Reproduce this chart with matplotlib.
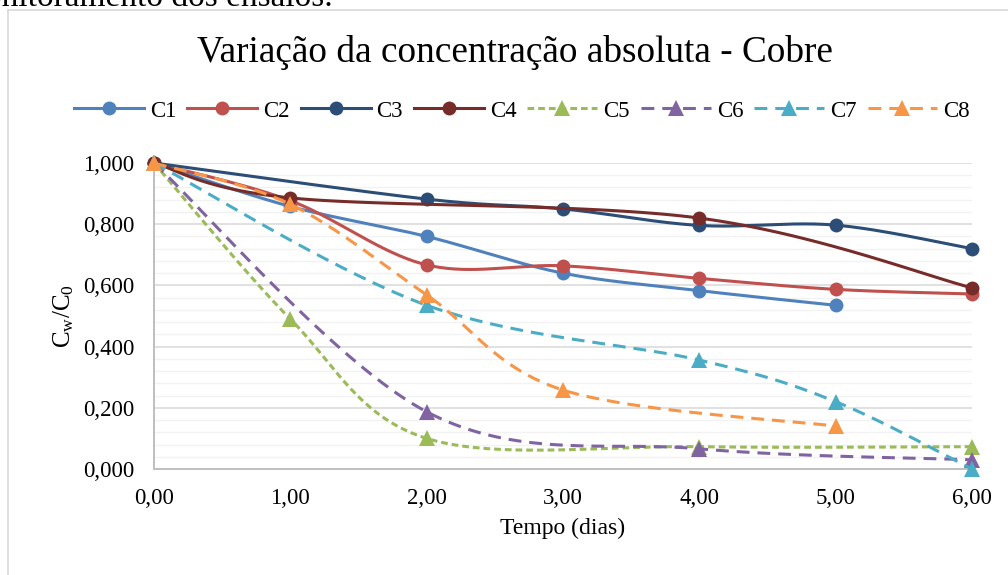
import matplotlib
matplotlib.use('Agg')
import matplotlib.pyplot as plt
from matplotlib.lines import Line2D
from matplotlib.ticker import MultipleLocator, FuncFormatter
import numpy as np

plt.rcParams['font.family'] = ['Liberation Serif', 'DejaVu Serif']
plt.rcParams['mathtext.fontset'] = 'custom'
plt.rcParams['mathtext.rm'] = 'Liberation Serif'
plt.rcParams['mathtext.it'] = 'Liberation Serif:italic'

# dados (Cw/C0 por dia)
x_c1 = [0, 1, 2, 3, 4, 5]
y_c1 = [1.000, 0.858, 0.760, 0.640, 0.583, 0.535]
x_c2 = [0, 1, 2, 3, 4, 5, 6]
y_c2 = [1.000, 0.877, 0.667, 0.664, 0.623, 0.587, 0.572]
x_c3 = [0, 2, 3, 4, 5, 6]
y_c3 = [1.000, 0.882, 0.850, 0.796, 0.797, 0.720]
x_c4 = [0, 1, 4, 6]
y_c4 = [1.000, 0.886, 0.820, 0.592]
x_c5 = [0, 1, 2, 4, 6]
y_c5 = [1.000, 0.490, 0.100, 0.073, 0.073]
x_c6 = [0, 2, 4, 6]
y_c6 = [1.000, 0.187, 0.066, 0.030]
x_c7 = [0, 2, 4, 5, 6]
y_c7 = [1.000, 0.535, 0.356, 0.220, 0.000]
x_c8 = [0, 1, 2, 3, 5]
y_c8 = [1.000, 0.865, 0.569, 0.258, 0.140]

nomes = ['C1', 'C2', 'C3', 'C4', 'C5', 'C6', 'C7', 'C8']
cores = ['#4F81BD', '#C0504D', '#2C4D75', '#772C2A',
         '#9BBB59', '#8064A2', '#4BACC6', '#F79646']
series = [(x_c1, y_c1), (x_c2, y_c2), (x_c3, y_c3), (x_c4, y_c4),
          (x_c5, y_c5), (x_c6, y_c6), (x_c7, y_c7), (x_c8, y_c8)]


# suavizacao estilo excel (bezier / catmull-rom)
def suavizar(xs, ys, n=40):
    pts = np.column_stack([xs, ys]).astype(float)
    out = []
    t = np.linspace(0, 1, n)[:, None]
    for i in range(len(pts) - 1):
        p0 = pts[max(i - 1, 0)]
        p1 = pts[i]
        p2 = pts[i + 1]
        p3 = pts[min(i + 2, len(pts) - 1)]
        c1 = p1 + (p2 - p0) / 6
        c2 = p2 - (p3 - p1) / 6
        seg = (1 - t)**3 * p1 + 3 * (1 - t)**2 * t * c1 + 3 * (1 - t) * t**2 * c2 + t**3 * p2
        out.append(seg if i == 0 else seg[1:])
    return np.vstack(out)


fig = plt.figure(figsize=(10.08, 5.75), dpi=100)
ax = fig.add_axes([154/1008, 1-469/575, (972-154)/1008, (469-163)/575])

lw = 2.2
handles = []
for i, (xs, ys) in enumerate(series):
    cor = cores[i]
    if i < 4:
        estilo = dict(linestyle='-')
        marker, ms = 'o', 10
    elif i == 4:
        estilo = dict(linestyle=(0, (2.2, 1.3)))
        marker, ms = '^', 11
    else:
        estilo = dict(linestyle=(0, (4.2, 2.6)))
        marker, ms = '^', 11
    curva = suavizar(xs, ys)
    ax.plot(curva[:, 0], curva[:, 1], color=cor, lw=lw, zorder=3 + i,
            clip_on=False, solid_capstyle='round', **estilo)
    ax.plot(xs, ys, color=cor, marker=marker, ms=ms, ls='none',
            zorder=3 + i, clip_on=False, markeredgewidth=0)
    handles.append(Line2D([], [], color=cor, lw=lw, marker=marker, ms=ms,
                          markeredgewidth=0, **estilo))

ax.set_xlim(0, 6)
ax.set_ylim(0, 1)
ax.xaxis.set_major_locator(MultipleLocator(1))
ax.yaxis.set_major_locator(MultipleLocator(0.2))
ax.yaxis.set_minor_locator(MultipleLocator(0.04))
ax.xaxis.set_major_formatter(FuncFormatter(lambda v, p: f'{v:.2f}'.replace('.', ',')))
ax.yaxis.set_major_formatter(FuncFormatter(lambda v, p: f'{v:.3f}'.replace('.', ',')))
ax.grid(axis='y', which='major', color='#D9D9D9', lw=1.1, zorder=1)
ax.grid(axis='y', which='minor', color='#F2F2F2', lw=1.0, zorder=1)
ax.set_axisbelow(True)
ax.tick_params(axis='both', which='both', length=0, labelsize=16.5)
ax.tick_params(axis='y', pad=14)
ax.tick_params(axis='x', pad=14)
for lado in ['top', 'right']:
    ax.spines[lado].set_visible(False)
for lado in ['left', 'bottom']:
    ax.spines[lado].set_color('#BFBFBF')
    ax.spines[lado].set_linewidth(1.4)

ax.set_xlabel('Tempo (dias)', fontsize=17, labelpad=6)
ax.set_ylabel(r'C$_{\mathrm{w}}$/C$_{0}$', fontsize=18, labelpad=5)

fig.text(515/1008, 1-52/575, 'Variação da concentração absoluta - Cobre',
         ha='center', va='center', fontsize=26.8)

fig.legend(handles, nomes, loc='center', bbox_to_anchor=(522/1008, 1-111/575),
           ncol=8, frameon=False, fontsize=16.5, handlelength=3.05,
           handletextpad=0.26, columnspacing=0.48, borderpad=0, borderaxespad=0)

# borda da area do grafico e texto do documento acima
fig.add_artist(Line2D([8/1008, 8/1008], [0, 1-10/575], color='#D9D9D9', lw=1.2))
fig.add_artist(Line2D([8/1008, 1], [1-10/575, 1-10/575], color='#D9D9D9', lw=1.2))
fig.text(333/1008, 1-6/575, 'monitoramento dos ensaios.', ha='right',
         va='baseline', fontsize=24)

fig.savefig('out.png', dpi=100)
